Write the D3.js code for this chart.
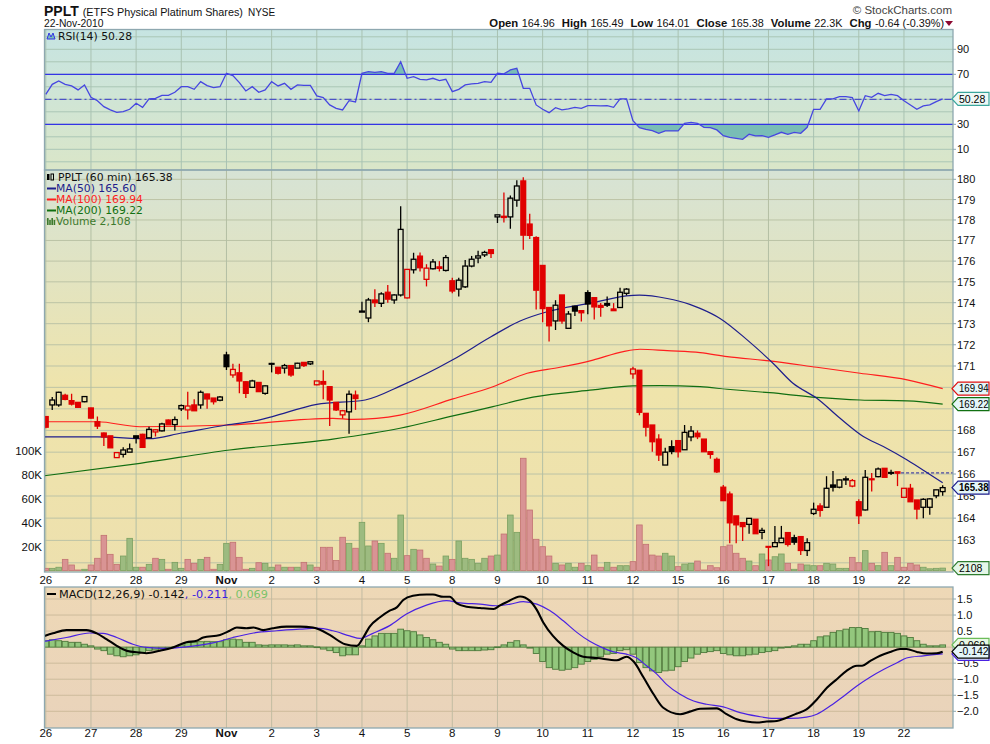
<!DOCTYPE html>
<html>
<head>
<meta charset="utf-8">
<script src="https://cdn.jsdelivr.net/npm/d3@7"></script>
<style>
body { margin: 0; background: #fff; }
svg { display: block; font-family: "DejaVu Sans", Verdana, sans-serif; }
</style>
</head>
<body>
<svg id="chart" width="990" height="744"></svg>
<script>
// hourly bars, 7 per trading day, 26-Oct .. 22-Nov 2010
const dayLabels = ["26","27","28","29","Nov","2","3","4","5","8","9","10","11","12","15","16","17","18","19","22"];
const barsPerDay = 7;

const opens = [168.64,169.18,169.18,169.63,169.38,169.30,169.33, 169.04,168.40,167.88,167.75,166.75,166.90,167.00,
  167.75,167.82,167.66,167.93,167.98,168.48,168.27, 169.00,168.95,169.18,169.18,169.69,169.50,169.40,
  171.52,170.58,170.68,170.26,170.00,170.23,169.72, 171.10,170.94,170.90,171.02,170.90,171.17,171.10,
  170.12,170.27,170.03,169.30,168.72,168.86,169.64, 173.55,173.27,174.13,173.97,174.50,174.13,174.37,
  174.23,175.58,176.24,175.12,175.63,175.72,175.55, 175.05,174.65,174.76,175.76,176.15,176.30,176.55,
  178.15,178.18,178.15,178.97,179.92,177.80,177.14, 175.79,173.77,173.13,174.37,172.78,173.83,173.62,
  174.48,174.24,173.87,173.96,173.70,173.77,174.45, 170.63,170.80,168.79,168.25,167.60,166.41,167.25,
  167.53,167.11,167.70,167.87,167.60,167.02,166.67, 165.40,165.09,164.10,163.80,163.72,163.95,163.36,
  162.73,162.72,162.90,163.35,163.12,163.17,162.55, 164.21,164.55,164.49,165.50,165.40,165.73,165.45,
  164.74,164.37,165.78,165.88,166.26,166.05,166.10, 164.94,165.35,164.82,164.49,164.49,165.01,165.20];
const highs = [168.66,169.55,169.80,169.70,169.70,169.30,169.60, 169.05,168.64,167.90,167.75,167.00,167.23,167.40,
  167.75,167.85,168.17,168.05,168.35,168.50,168.64, 169.20,169.80,169.45,169.85,169.70,169.50,169.60,
  171.67,171.10,171.10,170.30,170.35,170.25,170.10, 171.15,170.95,171.10,171.05,171.15,171.18,171.20,
  170.30,170.80,170.03,169.30,168.95,169.85,169.85, 174.05,174.23,174.65,174.50,174.85,174.40,178.67,
  175.60,176.40,176.42,175.85,176.10,176.00,176.30, 175.20,175.20,176.05,176.25,176.50,176.50,176.55,
  178.25,179.35,179.20,179.95,180.10,178.30,177.20, 175.80,173.80,174.12,174.37,173.60,173.85,173.62,
  174.60,174.24,173.98,174.30,173.98,174.72,174.70, 170.97,170.80,168.80,168.25,167.82,167.20,167.55,
  167.55,168.25,168.20,168.00,167.60,167.02,166.75, 165.50,165.20,164.10,163.80,164.00,163.95,163.57,
  162.73,163.65,163.65,163.35,163.25,163.17,163.10, 164.70,164.67,165.90,166.14,165.75,165.90,165.77,
  164.85,166.18,166.05,166.30,166.26,166.20,166.10, 165.35,165.55,164.82,164.90,164.90,165.30,165.49];
const lows = [168.10,168.94,169.10,169.40,169.15,169.05,169.30, 168.55,168.07,167.28,167.20,166.75,166.75,167.00,
  167.40,167.20,167.66,167.72,167.95,168.26,168.00, 168.90,168.50,168.90,169.00,169.00,169.20,169.35,
  170.81,170.45,169.72,169.50,170.00,169.80,169.65, 170.70,170.60,170.65,170.50,170.90,170.95,171.05,
  170.10,169.45,168.20,168.90,168.55,167.85,168.95, 173.55,173.07,173.80,173.80,174.00,173.95,174.30,
  174.20,175.40,175.50,174.78,175.60,175.50,175.50, 174.45,174.30,174.70,175.70,175.90,176.20,176.15,
  177.85,177.88,177.57,178.65,176.55,177.07,173.68, 173.07,172.15,172.70,173.00,172.78,173.37,173.10,
  173.45,173.20,173.33,173.80,173.62,173.75,174.35, 170.40,168.70,167.72,167.02,166.60,166.41,166.90,
  166.75,167.10,167.50,167.60,167.02,166.70,166.05, 164.78,162.87,162.87,162.97,163.30,163.30,163.05,
  161.85,162.72,162.90,162.73,162.80,162.35,162.30, 164.14,164.06,164.49,165.20,165.35,165.50,165.40,
  163.74,164.34,165.20,165.85,165.85,165.95,165.45, 164.94,164.74,163.95,164.00,164.15,164.90,165.01];
const closes = [168.15,169.41,169.77,169.44,169.22,169.07,169.57, 168.57,168.20,167.70,167.20,166.98,167.10,167.15,
  167.65,167.22,168.05,168.03,168.30,168.26,168.50, 169.15,169.13,168.91,169.77,169.46,169.33,169.55,
  170.97,170.84,170.30,169.72,170.30,169.80,170.07, 171.12,170.66,171.02,170.58,171.13,171.02,171.20,
  170.30,170.15,169.41,168.95,168.91,169.68,169.48, 173.60,174.13,174.00,174.42,174.17,174.37,177.54,
  175.60,176.09,175.68,175.66,175.96,175.65,176.17, 174.56,175.08,175.76,176.09,176.25,176.42,176.37,
  178.25,178.12,179.07,179.67,177.26,177.25,174.60, 173.72,172.90,173.88,173.13,173.46,173.60,173.52,
  173.94,173.80,173.78,173.88,173.62,174.50,174.65, 170.86,168.84,168.15,167.48,166.87,167.00,167.03,
  167.02,167.91,167.97,167.71,167.02,166.90,166.10, 164.79,163.79,163.70,163.62,163.99,163.30,163.45,
  162.70,162.90,163.10,162.82,162.92,162.55,162.90, 164.40,164.35,165.35,165.40,165.73,165.78,165.70,
  164.11,165.85,165.74,166.23,165.85,166.07,166.04, 165.35,164.74,164.41,164.85,164.87,165.28,165.38];
// volume in thousands
const volumes = [1.9,1.9,2.8,9.4,4.7,0.5,1.1, 4.7,10.3,29.5,13.6,5.2,12.2,27, 2.8,2.8,5.2,10.3,9.4,1.1,6.9,
  1.9,9.4,6.1,9.4,11.1,1.1,5.2, 22.8,23.7,11.1,1.1,1.9,6.6,6.1, 2.8,4.7,2.8,2.8,2.8,6.9,4.7,
  2.8,19.5,19.5,8.4,27.9,22.8,18.7, 40.4,20.6,24.8,22.8,14.5,10.3,46.5, 12.5,17.8,17.2,10.3,5.5,3.8,12.2,
  9.4,24.8,10.3,9.4,6.1,10.3,12.2, 13,30.6,46.5,32,94,50.7,26.2, 20,12.2,6.1,4.7,6.1,2.8,6.1,
  4.1,13,2.8,6.9,2.8,4.1,4.1, 7.5,38.2,22,13,12.2,14.5,12.2, 3.3,5.5,6.1,8,0.5,4.1,2.4,
  20,21.4,14.5,10.3,8,4.1,13.9, 8.9,11.6,13.9,6.1,1.1,5.5,4.7, 4.1,4.1,6.1,5.5,1.9,1.9,11.1,
  6.6,16.7,6.1,4.1,15.3,4.1,11.1, 2.8,6.1,4.7,2.8,1.5,1.9,2.1];

// moving averages: [bar, value]
const ma50 = [[-0.2,167.7],[8,167.7],[16,167.62],[21,167.88],[28,168.25],[33,168.48],[35,168.63],[42,169.21],
  [49.5,169.41],[55,170.07],[63,171.28],[69,172.38],[73.5,173.13],[77.7,173.57],[84.8,174.0],[90,174.33],
  [92,174.36],[96.3,174.2],[99.8,173.92],[101.4,173.73],[104.5,173.25],[108.7,172.23],[112.7,171.13],
  [115.8,170.19],[119.5,169.49],[123.1,168.56],[126.7,167.72],[129.8,167.26],[133.5,166.64],[136.6,166.06],[139,165.6]];
const ma100 = [[-0.2,168.4],[8,168.4],[14.6,168.17],[28.5,168.25],[44.5,168.56],[47.6,168.51],[54.9,168.71],
  [63.1,169.46],[69.3,170.03],[74.6,170.66],[79.7,170.94],[84.8,171.28],[89.5,171.68],[92.1,171.79],
  [96.3,171.72],[101.4,171.63],[105.6,171.44],[112.2,171.24],[119.5,170.94],[126.2,170.66],[133.5,170.35],[139,169.94]];
const ma200 = [[-0.2,165.92],[14.6,166.49],[28.5,167.1],[44.5,167.6],[54.9,168.1],[63.1,168.67],[69.3,169.1],
  [75.5,169.54],[84.8,169.88],[91,170.07],[95.2,170.08],[101.4,170.03],[105.6,169.91],[112.2,169.75],
  [119.5,169.53],[126.2,169.41],[133.5,169.37],[139,169.22]];

const rsi = [54,62,64.7,62,60.7,57.5,61.5, 51.6,48.9,44.1,41.5,39.6,40.1,42, 46.8,43.6,50.3,50.8,53.2,53.2,55.6,
  60.1,60.1,58,64.1,60.9,59.3,60.1, 70.8,68.9,63.3,56.7,60.1,55.6,57.5, 64.1,60.7,62.8,58,61.5,61.2,61.2,
  52.7,51.3,45.5,42.8,41.5,48.9,47.9, 70.8,72.1,71.6,72.1,70.8,70.8,80.1, 66.8,68.1,66,65.5,66.8,64.9,66,
  56.1,58,61.5,62.3,62.8,64.1,63.6, 70.8,70.3,73.5,74.8,58.8,58.8,45.5, 42,39.3,43.3,41.5,42.3,43.6,42.8,
  44.9,44.9,44.7,44.9,43.6,50.3,50.3, 32.9,27.3,26,24.9,22.8,24.7,24.7, 24.7,30.8,31.6,30.8,27.6,27.3,25.5,
  20.9,19.6,18.8,18,22,20.7,20.9, 19.6,21.5,23.6,22,23.6,22.8,27.6, 42,42,50.3,50.3,52.1,52.1,51.3,
  40.7,52.9,51.6,54.8,52.9,54,52.9, 48.9,45.5,42,44.7,45.5,48.1,50.28];

const macdLine = [[-0.2,0.35],[1.1,0.43],[3.2,0.53],[6.3,0.53],[7.9,0.43],[9.4,0.25],[11,0.04],[12.5,-0.11],
  [14.6,-0.17],[15.6,-0.19],[17.7,-0.11],[19.7,-0.01],[21.8,0.15],[23.4,0.2],[24.4,0.3],[27,0.38],[28.5,0.51],
  [29.6,0.61],[31.1,0.59],[32.2,0.61],[33.7,0.53],[35.2,0.59],[37.3,0.64],[39.4,0.64],[41.4,0.61],[42.5,0.54],
  [44,0.38],[46.4,0.09],[48.2,0.04],[49.2,0.3],[50.2,0.64],[51.8,0.93],[53.3,1.14],[54.4,1.24],[55.4,1.47],
  [56.9,1.6],[59,1.64],[60,1.64],[61.6,1.57],[62.6,1.57],[63.7,1.36],[65.2,1.26],[67.3,1.22],[69.4,1.19],
  [70.4,1.3],[71.4,1.4],[73.5,1.58],[75,1.45],[76.1,1.16],[77.1,0.77],[78.6,0.35],[80.2,0.04],[81.8,-0.17],
  [83.3,-0.3],[85.4,-0.34],[88.5,-0.41],[90,-0.3],[91.1,-0.45],[92.6,-0.93],[94.2,-1.47],[95.7,-1.89],
  [98.3,-2.09],[99.8,-2.01],[101.4,-1.92],[104,-1.91],[105.5,-2.09],[107.1,-2.25],[108.6,-2.32],[110.2,-2.35],
  [111.7,-2.32],[113.3,-2.3],[114.8,-2.2],[116.4,-2.07],[117.9,-1.94],[119.5,-1.63],[121.1,-1.26],[122.6,-1.0],
  [124.1,-0.74],[125.7,-0.58],[126.5,-0.58],[127.8,-0.43],[129.3,-0.27],[130.9,-0.15],[132.4,-0.06],
  [133.4,-0.06],[135,-0.15],[136.5,-0.2],[138.1,-0.19],[139,-0.142]];
const signalLine = [[-0.2,0.18],[3.2,0.3],[6.8,0.44],[8.9,0.43],[11,0.3],[13.5,0.09],[15.6,-0.01],[18.7,-0.04],
  [21.8,0.01],[25.9,0.13],[29,0.3],[32.2,0.44],[35.8,0.51],[39.4,0.56],[42,0.59],[44.5,0.51],[47.1,0.35],
  [48.7,0.27],[50.7,0.43],[53.3,0.67],[55.9,1.03],[59,1.31],[62.1,1.45],[64.2,1.38],[67.3,1.34],[69.9,1.29],
  [72,1.34],[74,1.42],[76.1,1.34],[78.1,1.14],[80.2,0.82],[82.3,0.46],[84.3,0.18],[86.4,-0.03],[88,-0.15],
  [90,-0.22],[91.6,-0.34],[93.1,-0.58],[94.7,-0.84],[96.2,-1.16],[98.3,-1.47],[100.4,-1.68],[102.4,-1.78],
  [105,-1.86],[107.6,-2.04],[110.2,-2.15],[112.8,-2.22],[115.3,-2.22],[117.9,-2.18],[119.5,-2.09],[121.6,-1.83],
  [123.7,-1.52],[125.7,-1.21],[127.8,-0.93],[129.9,-0.69],[132,-0.48],[133.4,-0.34],[136,-0.27],[139,-0.211]];
const macdHist = [0.2,0.23,0.2,0.18,0.15,0.15,0.09, 0.04,-0.06,-0.11,-0.22,-0.27,-0.3,-0.27,
  -0.24,-0.17,-0.11,-0.09,-0.06,-0.03,0.01, 0.07,0.15,0.15,0.17,0.18,0.17,0.17,
  0.23,0.25,0.23,0.15,0.15,0.07,0.06, 0.07,0.07,0.07,0.06,0.07,0.04,0.04,
  0.01,-0.06,-0.11,-0.17,-0.27,-0.24,-0.24, 0.04,0.25,0.35,0.43,0.43,0.43,0.56,
  0.51,0.48,0.38,0.3,0.23,0.15,0.09, -0.06,-0.11,-0.11,-0.11,-0.11,-0.09,-0.08,
  0.01,0.07,0.15,0.2,0.07,-0.03,-0.2, -0.45,-0.64,-0.69,-0.72,-0.69,-0.64,-0.53,
  -0.45,-0.38,-0.3,-0.22,-0.2,-0.11,-0.08, -0.22,-0.48,-0.64,-0.74,-0.79,-0.74,-0.72,
  -0.61,-0.45,-0.34,-0.22,-0.17,-0.14,-0.11, -0.2,-0.24,-0.27,-0.27,-0.24,-0.22,-0.17,
  -0.14,-0.11,-0.03,0.01,0.04,0.09,0.09, 0.2,0.32,0.35,0.46,0.51,0.56,0.61,
  0.61,0.58,0.48,0.49,0.46,0.46,0.43, 0.35,0.3,0.2,0.09,0.04,0.04,0.069];

const priceTicks = d3.range(162, 181);
const priceLabels = [163,164,165,166,167,168,171,172,173,174,175,176,177,178,179,180];
const rsiTicks = [10, 30, 70, 90];
const macdTicks = [-2, -1.5, -1, -0.5, 0, 0.5, 1, 1.5];
const volTicks = [20, 40, 60, 80, 100];

const svg = d3.select("#chart");
const L = 44.5, R = 953;
const rsiP = { top: 29.5, bot: 170 };
const mainP = { top: 170, bot: 572 };
const macdP = { top: 587, bot: 728 };
const axisFont = "'Liberation Sans', Arial, sans-serif";

const x = d3.scaleLinear().domain([-0.2, 140.6]).range([L, R]);
const yRsi = d3.scaleLinear().domain([0, 100]).range([161.8, 36.8]);
const yPx = d3.scaleLog().domain([162, 180]).range([562.8, 179.3]);
const yVol = d3.scaleLinear().domain([0, 100]).range([570.6, 451.1]);
const yMacd = d3.scaleLinear().domain([-2, 1.5]).range([711.3, 599]);

const defs = svg.append("defs");
function gradient(id, stops) {
    const g = defs.append("linearGradient").attr("id", id)
        .attr("x1", 0).attr("y1", 0).attr("x2", 0).attr("y2", 1);
    stops.forEach(s => g.append("stop").attr("offset", s[0]).attr("stop-color", s[1]));
}
gradient("gRsi", [[0, "#c6e4e2"], [1, "#dae6c8"]]);
gradient("gMain", [[0, "#d6e3d5"], [0.55, "#efe4ab"], [1, "#ede0ae"]]);
gradient("gMacd", [[0, "#eed8b6"], [1, "#e9d3bb"]]);

function clip(id, p) {
    defs.append("clipPath").attr("id", id).append("rect")
        .attr("x", L).attr("y", p.top).attr("width", R - L).attr("height", p.bot - p.top);
}
clip("cRsi", rsiP);
clip("cMain", mainP);
clip("cMacd", macdP);

// panel backgrounds
[[rsiP, "gRsi"], [mainP, "gMain"], [macdP, "gMacd"]].forEach(([p, g]) => {
    svg.append("rect").attr("x", L).attr("y", p.top).attr("width", R - L).attr("height", p.bot - p.top)
        .attr("fill", `url(#${g})`);
});

// grid
const dayIdx = dayLabels.map((d, k) => k * barsPerDay);
function vGrid(p, color) {
    svg.append("g").selectAll("line").data(dayIdx).enter().append("line")
        .attr("x1", d => x(d)).attr("x2", d => x(d)).attr("y1", p.top).attr("y2", p.bot)
        .attr("stroke", color).attr("stroke-width", 1);
}
function hGrid(vals, scale, color) {
    svg.append("g").selectAll("line").data(vals).enter().append("line")
        .attr("x1", L).attr("x2", R).attr("y1", d => scale(d)).attr("y2", d => scale(d))
        .attr("stroke", color).attr("stroke-width", 1);
}
hGrid(d3.range(0, 101, 10), yRsi, "#aac6b6");
vGrid(rsiP, "#a9c2b2");
hGrid(priceTicks, yPx, "#bcc3a6");
vGrid(mainP, "#b3bfa4");
hGrid(macdTicks, yMacd, "#cdbb9c");
vGrid(macdP, "#c2bca2");

// ---------- RSI ----------
const gR = svg.append("g").attr("clip-path", "url(#cRsi)");
defs.append("clipPath").attr("id", "cAbove70").append("rect")
    .attr("x", L).attr("y", rsiP.top).attr("width", R - L).attr("height", yRsi(70) - rsiP.top);
defs.append("clipPath").attr("id", "cBelow30").append("rect")
    .attr("x", L).attr("y", yRsi(30)).attr("width", R - L).attr("height", rsiP.bot - yRsi(30));
gR.append("path").datum(rsi).attr("clip-path", "url(#cAbove70)")
    .attr("d", d3.area().x((d, i) => x(i)).y0(yRsi(70)).y1(d => yRsi(d)))
    .attr("fill", "#79bdb6");
gR.append("path").datum(rsi).attr("clip-path", "url(#cBelow30)")
    .attr("d", d3.area().x((d, i) => x(i)).y0(yRsi(30)).y1(d => yRsi(d)))
    .attr("fill", "#79bdb6");
[70, 30].forEach(v => gR.append("line").attr("x1", L).attr("x2", R)
    .attr("y1", yRsi(v)).attr("y2", yRsi(v)).attr("stroke", "#3434e6").attr("stroke-width", 1.3));
gR.append("line").attr("x1", L).attr("x2", R).attr("y1", yRsi(50)).attr("y2", yRsi(50))
    .attr("stroke", "#3434c8").attr("stroke-width", 1).attr("stroke-dasharray", "7,3,2,3");
gR.append("path").datum(rsi)
    .attr("d", d3.line().x((d, i) => x(i)).y(d => yRsi(d)))
    .attr("fill", "none").attr("stroke", "#4646e0").attr("stroke-width", 1.3);

// ---------- price + volume ----------
const gM = svg.append("g").attr("clip-path", "url(#cMain)");
const bars = opens.map((o, i) => ({
    i, o, h: highs[i], l: lows[i], c: closes[i], v: volumes[i],
    up: i > 0 && closes[i] >= closes[i - 1]
}));

gM.append("g").selectAll("rect").data(bars).enter().append("rect")
    .attr("x", d => x(d.i) - 2.8).attr("width", 5.6)
    .attr("y", d => yVol(d.v)).attr("height", d => yVol(0) - yVol(d.v))
    .attr("fill", d => d.up ? "#9dbb80" : "#d99494")
    .attr("stroke", d => d.up ? "#7ba060" : "#c27272").attr("stroke-width", 0.8);

const maLine = d3.line().x(d => x(d[0])).y(d => yPx(d[1])).curve(d3.curveMonotoneX);
[[ma200, "#116e11"], [ma100, "#ff1e1e"], [ma50, "#1e1e8c"]].forEach(([s, c]) => {
    gM.append("path").datum(s).attr("d", maLine).attr("fill", "none")
        .attr("stroke", c).attr("stroke-width", 1.2);
});

// previous close marker
gM.append("line").attr("x1", x(131)).attr("x2", R).attr("y1", yPx(166.05)).attr("y2", yPx(166.05))
    .attr("stroke", "#2020a0").attr("stroke-width", 1).attr("stroke-dasharray", "3,2");

const candle = gM.append("g").selectAll("g").data(bars).enter().append("g");
candle.each(function (d) {
    const g = d3.select(this);
    const col = d.up ? "#000000" : "#e00000";
    const top = yPx(Math.max(d.o, d.c)), bot = yPx(Math.min(d.o, d.c));
    const cx = x(d.i);
    g.append("line").attr("x1", cx).attr("x2", cx).attr("y1", yPx(d.h)).attr("y2", top)
        .attr("stroke", col).attr("stroke-width", 1.3);
    g.append("line").attr("x1", cx).attr("x2", cx).attr("y1", bot).attr("y2", yPx(d.l))
        .attr("stroke", col).attr("stroke-width", 1.3);
    g.append("rect").attr("x", cx - 2.4).attr("width", 4.8)
        .attr("y", top).attr("height", Math.max(bot - top, 0.8))
        .attr("fill", d.c < d.o ? col : "none")
        .attr("stroke", col).attr("stroke-width", 1.3);
});

// ---------- MACD ----------
const gD = svg.append("g").attr("clip-path", "url(#cMacd)");
gD.append("g").selectAll("rect").data(macdHist).enter().append("rect")
    .attr("x", (d, i) => x(i) - 2.9).attr("width", 5.8)
    .attr("y", d => Math.min(yMacd(d), yMacd(0)))
    .attr("height", d => Math.max(Math.abs(yMacd(d) - yMacd(0)), 0.8))
    .attr("fill", "#93c77d").attr("stroke", "#4e7a3c").attr("stroke-width", 0.9);
const mLine = d3.line().x(d => x(d[0])).y(d => yMacd(d[1])).curve(d3.curveMonotoneX);
gD.append("path").datum(signalLine).attr("d", mLine).attr("fill", "none")
    .attr("stroke", "#4a22e2").attr("stroke-width", 1.2);
gD.append("path").datum(macdLine).attr("d", mLine).attr("fill", "none")
    .attr("stroke", "#000").attr("stroke-width", 2.1);

// panel borders
[rsiP, mainP, macdP].forEach(p => {
    svg.append("rect").attr("x", L).attr("y", p.top).attr("width", R - L).attr("height", p.bot - p.top)
        .attr("fill", "none").attr("stroke", "#8ea8b0").attr("stroke-width", 1.3);
});

// ---------- axes text ----------
function rightLabels(vals, scale, fmt) {
    const g = svg.append("g").attr("font-family", axisFont);
    vals.forEach(v => {
        g.append("line").attr("x1", R).attr("x2", R + 3).attr("y1", scale(v)).attr("y2", scale(v))
            .attr("stroke", "#8ea8b0");
        g.append("text").attr("x", R + 4).attr("y", scale(v)).attr("dy", "0.36em")
            .attr("font-size", 11).attr("fill", "#111").text(fmt(v));
    });
}
rightLabels(rsiTicks, yRsi, d => d);
rightLabels(priceLabels, yPx, d => d);
rightLabels(macdTicks.filter(v => v !== 0), yMacd, d3.format(".1f"));

svg.append("g").attr("font-family", axisFont).selectAll("text").data(volTicks).enter().append("text")
    .attr("x", 42).attr("y", d => yVol(d)).attr("dy", "0.36em").attr("text-anchor", "end")
    .attr("font-size", 11.5).attr("fill", "#111").text(d => d + "K");

[583.5, 737].forEach(yy => {
    svg.append("g").attr("font-family", axisFont).selectAll("text").data(dayLabels).enter().append("text")
        .attr("x", (d, k) => x(k * barsPerDay)).attr("y", yy).attr("text-anchor", "middle")
        .attr("font-size", 11.5).attr("font-weight", d => d === "Nov" ? "bold" : "normal")
        .attr("fill", "#111").text(d => d);
});

// value tags on the right edge
function tag(y, text, stroke, fill, bold) {
    const g = svg.append("g").attr("font-family", axisFont);
    g.append("path")
        .attr("d", `M${R - 1},${y} L${R + 5},${y - 6.5} H989 V${y + 6.5} H${R + 5} Z`)
        .attr("fill", fill).attr("stroke", stroke).attr("stroke-width", 1.2);
    if (!text) return;
    const t = g.append("text").attr("x", R + 6).attr("y", y).attr("dy", "0.36em")
        .attr("font-size", 10.5).attr("font-weight", bold ? "bold" : "normal")
        .attr("fill", "#000").text(text);
    if (text.length >= 6) t.attr("textLength", 29.5).attr("lengthAdjust", "spacingAndGlyphs");
}
tag(yRsi(rsi[139]), "50.28", "#3aa69c", "#eef8f5", false);
tag(yPx(169.94), "169.94", "#e01010", "#e4f6f8", false);
tag(yPx(169.22), "169.22", "#117011", "#e4f6f8", false);
tag(yPx(closes[139]), "165.38", "#1e1e8c", "#e4f6f8", true);
tag(yVol(volumes[139]), "2108", "#2f7d2f", "#e4f6e8", false);
tag(yMacd(0.069), "0.069", "#6cbc5a", "#e8f8e4", false);
tag(yMacd(-0.211), "", "#4a22e2", "#e4f6f8", false);
tag(yMacd(-0.142), "-0.142", "#000", "#e4f6f8", false);

// ---------- legends ----------
const lg = svg.append("g").attr("font-size", 10.8);
lg.append("path").attr("d", "M47,39 L49,33 L51,37 L53,33 L55,39 Z").attr("fill", "#79bdb6").attr("stroke", "#3434e6");
lg.append("text").attr("x", 58).attr("y", 39.5).attr("fill", "#111").text("RSI(14) 50.28");

lg.append("rect").attr("x", 47).attr("y", 174).attr("width", 2.5).attr("height", 6).attr("fill", "#000");
lg.append("rect").attr("x", 51).attr("y", 174).attr("width", 2.5).attr("height", 6).attr("fill", "none").attr("stroke", "#000");
lg.append("text").attr("x", 58).attr("y", 181).attr("fill", "#111").text("PPLT (60 min) 165.38");
[["MA(50) 165.60", "#1e1e8c", 192], ["MA(100) 169.94", "#ff1e1e", 203], ["MA(200) 169.22", "#117011", 214]]
    .forEach(([t, c, yy]) => {
        lg.append("line").attr("x1", 47).attr("x2", 56).attr("y1", yy - 3.5).attr("y2", yy - 3.5)
            .attr("stroke", c).attr("stroke-width", 2);
        lg.append("text").attr("x", 56).attr("y", yy).attr("fill", c).text(t);
    });
[0, 1, 2, 3].forEach(k => lg.append("rect").attr("x", 47 + k * 2.2).attr("y", 218 + (k % 2) * 2)
    .attr("width", 1.6).attr("height", 7 - (k % 2) * 2).attr("fill", "#3d7a2d"));
lg.append("text").attr("x", 56).attr("y", 225).attr("fill", "#3d7a2d").text("Volume 2,108");

lg.append("line").attr("x1", 47).attr("x2", 56).attr("y1", 594).attr("y2", 594).attr("stroke", "#000").attr("stroke-width", 2);
const mt = lg.append("text").attr("x", 59).attr("y", 597.5).attr("font-size", 11.3);
mt.append("tspan").attr("fill", "#111").text("MACD(12,26,9) -0.142");
mt.append("tspan").attr("fill", "#3a1ee0").text(", -0.211");
mt.append("tspan").attr("fill", "#7cc26a").text(", 0.069");

// ---------- header ----------
const hd = svg.append("g").attr("font-family", axisFont);
const t1 = hd.append("text").attr("x", 44).attr("y", 15.5).attr("fill", "#111");
t1.append("tspan").attr("font-size", 14).attr("font-weight", "bold").text("PPLT");
t1.append("tspan").attr("font-size", 10.8).attr("dx", 4).text("(ETFS Physical Platinum Shares)");
t1.append("tspan").attr("font-size", 10).attr("dx", 5).text("NYSE");
hd.append("text").attr("x", 44).attr("y", 26.5).attr("font-size", 10.3).attr("fill", "#111").text("22-Nov-2010");
hd.append("text").attr("x", 952).attr("y", 13.5).attr("text-anchor", "end").attr("font-size", 11.5)
    .attr("fill", "#444").text("\u00a9 StockCharts.com");
const info = [["Open", "164.96"], ["High", "165.49"], ["Low", "164.01"], ["Close", "165.38"],
    ["Volume", "22.3K"], ["Chg", "-0.64 (-0.39%)"]];
const t2 = hd.append("text").attr("x", 944).attr("y", 26.5).attr("text-anchor", "end").attr("fill", "#111");
info.forEach(([k, v], n) => {
    t2.append("tspan").attr("font-size", 11.3).attr("font-weight", "bold").attr("dx", n ? 7 : 0).text(k);
    t2.append("tspan").attr("font-size", 10.8).attr("dx", 3.5).text(v);
});
hd.append("path").attr("d", "M945,21 L953,21 L949,26 Z").attr("fill", "#8c0a32");
</script>
</body>
</html>
